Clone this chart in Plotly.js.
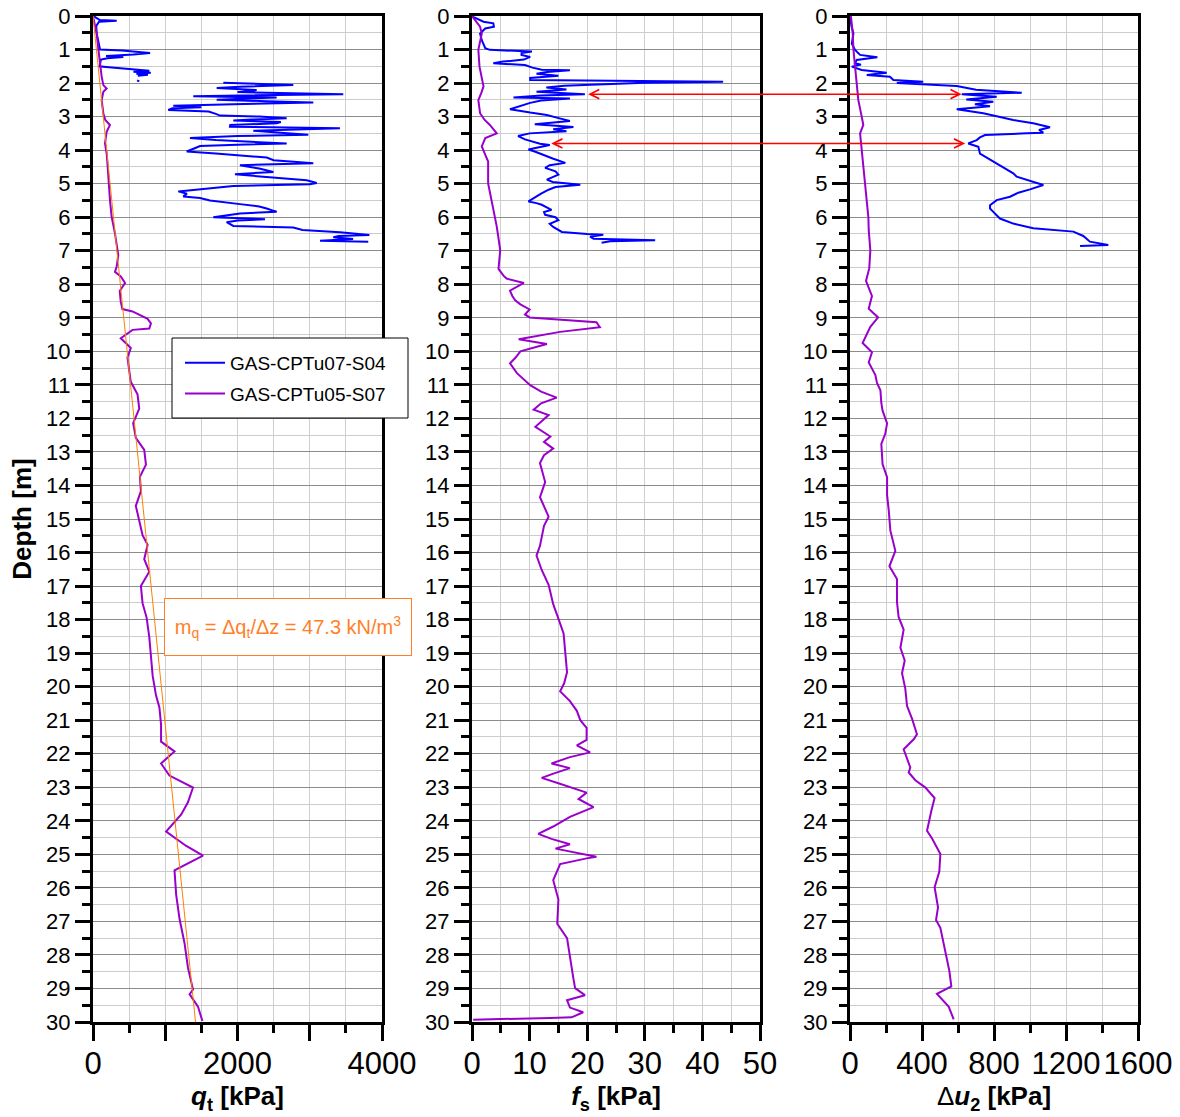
<!DOCTYPE html>
<html>
<head>
<meta charset="utf-8">
<script src="https://cdn.plot.ly/plotly-3.0.1.min.js"></script>
<style>html,body{margin:0;padding:0;background:#fff;}#chart{width:1180px;height:1117px;}</style>
</head>
<body>
<div id="chart"></div>
<script>
// ---------- DATA ----------
const seriesNames = ["GAS-CPTu07-S04", "GAS-CPTu05-S07"];

// GAS-CPTu07-S04 : cone resistance qt [kPa]  (null = gap in record)
const blueQtDepth = [0,0.05,0.12,0.14,0.17,0.3,0.52,0.82,1.0,1.03,1.06,1.1,1.15,1.19,1.22,1.26,1.3,1.5,1.52,1.56,1.6,1.63,1.66,1.69,1.72,1.75,1.78,null,1.92,1.95,null,
 1.99,2.02,2.06,2.11,2.15,2.21,2.27,2.33,2.36,2.39,2.43,2.47,2.5,2.54,2.58,2.63,2.68,2.72,2.75,2.8,2.85,2.92,2.97,3.0,3.05,3.09,3.12,3.16,3.2,3.25,3.3,3.35,3.39,3.42,3.47,3.54,3.58,3.64,3.7,3.8,3.84,3.88,3.95,4.04,4.1,4.15,4.22,4.3,4.39,4.45,4.55,4.65,4.72,4.8,4.9,4.98,5.02,5.07,5.15,5.23,5.3,5.38,5.43,5.5,5.61,5.68,5.74,5.84,5.89,5.95,6.0,6.06,6.1,6.15,6.26,6.31,6.38,6.45,6.53,6.56,6.6,6.65,6.7,6.73];
const blueQt = [15,40,97,328,83,45,51,74,97,400,605,790,560,180,420,200,110,90,180,420,620,780,560,800,600,760,620,null,610,640,null,
 1804,2300,2772,2034,1712,2265,2000,3464,2200,1388,2542,2000,1712,2400,3049,1942,1111,1500,1100,1042,1600,1700,1758,2300,2681,2200,1942,2600,2542,1900,1896,3418,2600,2219,2500,2980,2000,1342,1700,2681,2000,1481,1400,1297,1700,2034,2404,2500,3049,2034,2300,2496,1965,2400,2958,3096,3000,1942,1573,1181,1300,1250,1481,1619,2034,2300,2404,2542,2034,1800,1665,2381,2000,1850,1942,2772,2900,3418,3825,3400,3326,3600,3142,3810];

// GAS-CPTu07-S04 : sleeve friction fs [kPa]
const blueFsDepth = [0.02,0.17,0.22,0.32,0.37,0.52,0.72,0.96,1.01,1.03,1.06,1.1,1.16,1.22,1.3,1.36,1.41,1.46,1.54,1.6,1.62,1.67,1.72,1.78,1.85,1.91,1.94,1.96,1.99,2.04,2.08,2.13,2.19,2.26,2.33,2.37,2.43,2.46,2.52,2.59,2.7,2.78,2.88,2.95,3.03,3.13,3.23,3.31,3.38,3.44,3.5,3.58,3.68,3.81,3.85,3.98,4.05,4.13,4.25,4.38,4.45,4.53,4.63,4.73,4.88,4.95,5.03,5.1,5.18,5.3,5.45,5.53,5.58,5.63,5.78,5.85,5.93,6.0,6.09,6.2,6.29,6.44,6.5,6.52,6.58,6.64,6.69,6.72,6.76];
const blueFs = [0.1,2.0,3.7,3.8,2.3,1.4,1.7,2.3,3.1,8.3,10.4,8.6,8.6,10.1,9.0,5.4,3.7,9.2,10.5,12.1,17.0,13.0,11.2,15.0,10.1,10.1,25.0,43.6,30.0,22.8,16.0,12.9,16.4,11.2,19.6,12.0,7.2,17.0,12.0,10.1,8.0,6.6,10.1,13.0,14.7,17.0,10.9,17.6,14.1,16.4,10.0,8.0,9.2,11.8,13.5,9.8,11.0,12.1,14.0,16.2,13.5,12.7,14.5,15.0,13.0,14.0,18.8,14.5,13.3,12.0,10.5,9.8,11.2,12.1,13.8,12.5,12.7,14.5,15.0,13.5,14.1,15.6,20.0,22.8,20.5,21.1,31.8,24.0,22.5];

// GAS-CPTu07-S04 : excess pore pressure du2 [kPa]
const blueDuDepth = [0,0.32,0.52,0.82,1.01,1.16,1.23,1.31,1.41,1.45,1.51,1.61,1.69,1.76,1.81,1.91,1.96,2.0,2.09,2.2,2.29,2.33,2.41,2.49,2.56,2.63,2.69,2.78,2.9,3.1,3.2,3.32,3.4,3.48,3.5,3.55,3.62,3.7,3.8,3.9,4.1,4.4,4.69,4.79,4.97,5.04,5.17,5.27,5.39,5.49,5.64,5.74,5.84,6.04,6.19,6.33,6.43,6.56,6.73,6.83,6.86];
const blueDu = [0,9,19,10,28,56,152,37,28,61,10,65,204,93,222,241,407,260,593,700,954,621,815,646,796,694,778,593,741,907,1018,1111,1050,1074,982,750,722,704,657,713,722,815,907,926,1037,1074,1000,935,889,815,778,778,796,833,907,1018,1241,1296,1333,1435,1278];

// GAS-CPTu05-S07 : qt [kPa]
const purpleQtDepth = [0,0.52,0.99,1.51,1.81,2.06,2.16,2.26,2.51,2.9,3.1,3.25,3.45,3.8,4.1,4.49,4.89,5.49,5.99,6.48,7.13,7.48,7.63,7.77,7.96,8.2,8.52,8.74,8.81,9.03,9.17,9.32,9.36,9.61,9.75,9.9,10.19,10.55,10.91,11.28,11.71,12.14,12.58,12.94,13.38,13.74,14.17,14.61,15.04,15.48,15.77,16.2,16.57,17.0,17.51,17.94,18.52,19.1,19.68,20.26,20.62,21.13,21.64,21.93,22.29,22.65,23.01,23.45,23.81,24.32,24.75,25.04,25.48,26.2,26.93,27.65,28.38,29.03,29.17,29.54,29.97];
const purpleQt = [0,51,74,97,120,143,189,143,120,143,170,235,189,166,189,203,212,235,258,304,350,327,304,384,444,370,384,407,547,756,802,779,547,384,453,523,477,500,523,616,640,556,593,709,733,649,663,593,640,686,756,709,779,663,686,742,779,802,826,872,919,942,942,1128,942,1058,1384,1314,1221,1012,1291,1523,1128,1151,1198,1267,1314,1384,1337,1453,1514];

// GAS-CPTu05-S07 : fs [kPa]
const purpleFsDepth = [0,0.32,0.52,1.01,1.51,1.91,2.1,2.3,2.51,2.9,3.1,3.25,3.5,3.64,3.89,4.1,4.34,4.99,5.49,6.28,6.98,7.54,7.75,7.83,7.96,8.19,8.35,8.48,8.6,8.75,8.9,8.99,9.13,9.28,9.42,9.64,9.78,10.0,10.2,10.36,10.65,10.85,11.01,11.2,11.38,11.55,11.74,11.9,12.1,12.25,12.54,12.7,12.9,13.1,13.33,13.6,13.9,14.35,14.6,14.93,15.2,15.51,15.8,16.09,16.52,16.96,17.54,17.97,18.41,18.99,19.57,19.9,20.14,20.43,20.72,21.0,21.23,21.59,21.75,21.96,22.1,22.29,22.43,22.6,22.72,22.88,23.04,23.16,23.35,23.59,23.88,24.17,24.39,24.54,24.7,24.83,25.07,25.12,25.29,25.77,26.35,27.07,27.5,28.1,28.7,28.99,29.2,29.35,29.57,29.71,29.86,29.88,29.93];
const purpleFs = [0,1.4,1.7,1.1,1.3,1.7,2.0,1.6,1.1,1.4,2.2,3.1,4.3,2.3,1.7,2.2,2.8,2.8,3.4,4.3,4.9,4.6,5.5,6.0,9.0,6.6,7.0,7.5,8.4,10.0,9.2,10.0,21.6,22.2,15.3,8.1,13.0,8.4,7.5,6.6,7.8,9.0,10.1,12.0,14.7,12.0,10.7,13.3,12.0,11.0,13.6,12.5,14.1,12.5,11.8,12.2,12.7,11.8,12.5,13.3,12.5,12.1,11.8,11.2,12.1,13.3,14.1,15.0,15.9,16.2,16.5,16.0,15.3,17.0,18.2,18.8,19.9,19.9,18.2,20.5,17.0,13.8,17.0,14.0,12.1,15.0,17.6,19.9,18.5,21.1,17.0,14.1,11.5,13.8,17.0,14.5,21.6,19.9,15.3,14.1,15.0,14.8,16.5,17.0,17.6,17.9,19.6,16.5,17.0,19.3,17.3,13.6,0.2];

// GAS-CPTu05-S07 : du2 [kPa]
const purpleDuDepth = [0,0.5,1.0,1.51,2.0,2.5,3.0,3.25,3.5,4.0,4.5,4.99,5.49,6.0,6.38,6.99,7.52,7.9,8.35,8.73,8.99,9.27,9.75,10.03,10.33,10.71,10.94,11.16,11.54,11.77,12.15,12.46,12.76,13.37,13.75,14.28,14.73,15.34,15.95,16.41,16.79,17.47,17.92,18.3,18.84,19.22,19.6,20.05,20.58,20.96,21.42,21.57,21.87,22.18,22.41,22.56,22.79,23.01,23.32,23.7,24.3,24.53,24.99,25.52,25.98,26.58,26.96,27.19,27.65,28.1,28.48,28.94,29.16,29.54,29.92];
const purpleDu = [5,15,19,28,37,46,65,74,56,65,74,83,96,102,104,113,107,89,122,104,156,113,70,122,104,141,150,169,174,181,206,196,174,181,206,206,215,224,252,219,261,261,270,298,280,304,289,307,317,345,372,354,298,317,335,326,363,419,470,452,428,456,502,496,470,489,478,502,520,539,552,563,483,548,576];

// qt gradient line  m_q = 47.3 kN/m3
const trendDepth = [0, 30];
const trendQt = [0, 1419];

// red arrows linking fs and du2 features
const arrowDepth = [2.33, 3.8];
const arrowFs = [19.9, 13.5];
const arrowDu = [620, 640];

// axis ranges & ticks
const qtRange = [0, 4000], fsRange = [0, 50], duRange = [0, 1600];
const qtTickVals = [0, 1000, 2000, 3000, 4000];
const qtTickText = ['0', '', '2000', '', '4000'];

// ---------- LAYOUT ----------
const W = 1180, H = 1117;
const mL = 93, mR = 42, mT = 16, mB = 95;
const pw = W - mL - mR, ph = H - mT - mB;
const dom1 = [0, (382 - mL) / pw];
const dom2 = [(472 - mL) / pw, (760 - mL) / pw];
const dom3 = [(850 - mL) / pw, 1];
const px2fx = p => (p - mL) / pw;
const py2fy = p => 1 - (p - mT) / ph;

const FONT = 'Arial, "Liberation Sans", sans-serif';
const blue = '#0000FF', purple = '#9900CC', orange = '#FF7F00';

function xAxisCfg(dom, range, major, minor, yAnchor, title, tickvals, ticktext) {
  const a = {
    domain: dom, range: range, anchor: yAnchor,
    showline: true, linecolor: '#000', linewidth: 3, mirror: true,
    ticks: 'outside', ticklen: 16, tickwidth: 3, tickcolor: '#000',
    showgrid: true, gridcolor: '#cfcfcf', gridwidth: 1, zeroline: false,
    tickfont: {family: FONT, size: 31, color: '#000'}, ticklabelstandoff: -4,
    minor: {tickmode: 'linear', tick0: 0, dtick: minor, ticks: 'outside', ticklen: 8, tickwidth: 3, tickcolor: '#000', showgrid: true, gridcolor: '#cfcfcf', gridwidth: 1},
    title: {text: title, font: {family: FONT, size: 26, color: '#000'}, standoff: 6},
    automargin: false, fixedrange: true
  };
  if (tickvals) { a.tickmode = 'array'; a.tickvals = tickvals; a.ticktext = ticktext; }
  else { a.tickmode = 'linear'; a.tick0 = 0; a.dtick = major; }
  return a;
}
function yAxisCfg(xAnchor, title) {
  const a = {
    domain: [0, 1], range: [30, 0], anchor: xAnchor,
    showline: true, linecolor: '#000', linewidth: 3, mirror: true,
    tickmode: 'linear', tick0: 0, dtick: 1,
    ticks: 'outside', ticklen: 15, tickwidth: 3, tickcolor: '#000',
    showgrid: true, gridcolor: '#8c8c8c', gridwidth: 1, zeroline: false,
    tickfont: {family: FONT, size: 22, color: '#000'},
    minor: {tickmode: 'linear', tick0: 0, dtick: 0.5, ticks: 'outside', ticklen: 8, tickwidth: 3, tickcolor: '#000', showgrid: true, gridcolor: '#cccccc', gridwidth: 1},
    automargin: false, fixedrange: true
  };
  if (title) a.title = {text: title, font: {family: FONT, size: 26, color: '#000'}, standoff: 8};
  return a;
}

const traces = [
  {x: blueQt, y: blueQtDepth, xaxis: 'x', yaxis: 'y', mode: 'lines', name: seriesNames[0], legendgroup: 'b', line: {color: blue, width: 2}, connectgaps: false},
  {x: purpleQt, y: purpleQtDepth, xaxis: 'x', yaxis: 'y', mode: 'lines', name: seriesNames[1], legendgroup: 'p', line: {color: purple, width: 2}},
  {x: trendQt, y: trendDepth, xaxis: 'x', yaxis: 'y', mode: 'lines', showlegend: false, line: {color: orange, width: 1}},
  {x: blueFs, y: blueFsDepth, xaxis: 'x2', yaxis: 'y2', mode: 'lines', name: seriesNames[0], legendgroup: 'b', showlegend: false, line: {color: blue, width: 2}},
  {x: purpleFs, y: purpleFsDepth, xaxis: 'x2', yaxis: 'y2', mode: 'lines', name: seriesNames[1], legendgroup: 'p', showlegend: false, line: {color: purple, width: 2}},
  {x: blueDu, y: blueDuDepth, xaxis: 'x3', yaxis: 'y3', mode: 'lines', name: seriesNames[0], legendgroup: 'b', showlegend: false, line: {color: blue, width: 2}},
  {x: purpleDu, y: purpleDuDepth, xaxis: 'x3', yaxis: 'y3', mode: 'lines', name: seriesNames[1], legendgroup: 'p', showlegend: false, line: {color: purple, width: 2}}
];

// convert an fs value (axis x2) into x3 data units, so one arrow can span both panels
function fsToDuUnits(v) {
  const frac = dom2[0] + (v - fsRange[0]) / (fsRange[1] - fsRange[0]) * (dom2[1] - dom2[0]);
  return duRange[0] + (frac - dom3[0]) / (dom3[1] - dom3[0]) * (duRange[1] - duRange[0]);
}

const annotations = [{
  xref: 'paper', yref: 'paper', x: px2fx(288), y: py2fy(627),
  xanchor: 'center', yanchor: 'middle', showarrow: false,
  text: 'm<sub>q</sub> = Δq<sub>t</sub>/Δz = 47.3 kN/m<sup>3</sup>',
  font: {family: FONT, size: 20, color: '#FF7F27'},
  bgcolor: '#fff', bordercolor: '#FF7F27', borderwidth: 1, borderpad: 6, width: 234, height: 44
}];
arrowDepth.forEach((d, i) => {
  annotations.push({
    xref: 'x3', yref: 'y3', x: arrowDu[i], y: d,
    axref: 'x3', ayref: 'y3', ax: fsToDuUnits(arrowFs[i]), ay: d,
    text: '', showarrow: true, arrowside: 'end+start', arrowhead: 5, startarrowhead: 5,
    arrowsize: 1.2, startarrowsize: 1.2, arrowwidth: 1.5, arrowcolor: '#FF0000', standoff: 0, startstandoff: 0
  });
});

// frame of the legend (legend itself drawn transparent on top)
const shapes = [{
  type: 'rect', xref: 'paper', yref: 'paper', layer: 'above',
  x0: px2fx(172), x1: px2fx(408), y0: py2fy(418), y1: py2fy(338),
  line: {color: '#000', width: 1}, fillcolor: '#fff'
}];

const layout = {
  width: W, height: H,
  margin: {l: mL, r: mR, t: mT, b: mB, pad: 0},
  paper_bgcolor: '#fff', plot_bgcolor: '#fff',
  font: {family: FONT, color: '#000'},
  showlegend: true,
  legend: {x: px2fx(180), y: py2fy(344), xanchor: 'left', yanchor: 'top',
           bgcolor: 'rgba(0,0,0,0)', borderwidth: 0, itemwidth: 40, tracegroupgap: 3,
           font: {family: FONT, size: 19, color: '#000'}},
  xaxis: xAxisCfg(dom1, qtRange, 1000, 500, 'y', '<b><i>q</i><sub>t</sub> [kPa]</b>', qtTickVals, qtTickText),
  xaxis2: xAxisCfg(dom2, fsRange, 10, 5, 'y2', '<b><i>f</i><sub>s</sub> [kPa]</b>'),
  xaxis3: xAxisCfg(dom3, duRange, 400, 200, 'y3', 'Δ<b><i>u</i><sub>2</sub> [kPa]</b>'),
  yaxis: yAxisCfg('x', '<b>Depth [m]</b>'),
  yaxis2: yAxisCfg('x2'),
  yaxis3: yAxisCfg('x3'),
  shapes: shapes,
  annotations: annotations
};

Plotly.newPlot('chart', traces, layout, {displayModeBar: false, staticPlot: true});
</script>
</body>
</html>
